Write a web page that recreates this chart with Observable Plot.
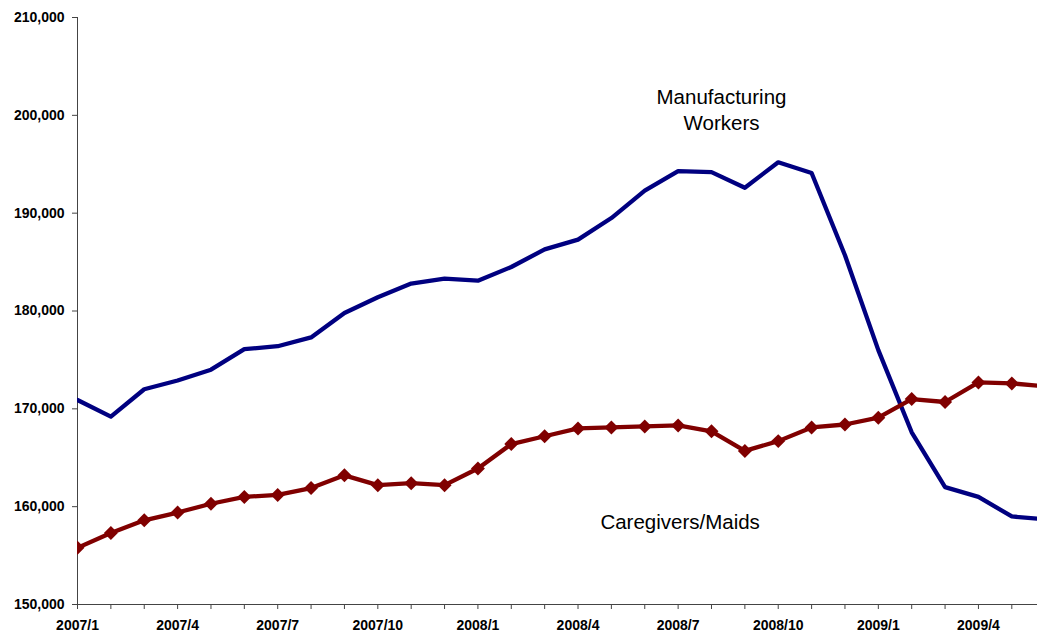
<!DOCTYPE html>
<html>
<head>
<meta charset="utf-8">
<script src="https://cdn.jsdelivr.net/npm/d3@7"></script>
<script src="https://cdn.jsdelivr.net/npm/@observablehq/plot@0.6"></script>
<style>
  html, body { margin: 0; padding: 0; background: #fff; overflow: hidden; }
</style>
</head>
<body>
<div id="chart"></div>
<script>
const months = ["2007/1","2007/2","2007/3","2007/4","2007/5","2007/6","2007/7","2007/8","2007/9","2007/10","2007/11","2007/12",
  "2008/1","2008/2","2008/3","2008/4","2008/5","2008/6","2008/7","2008/8","2008/9","2008/10","2008/11","2008/12",
  "2009/1","2009/2","2009/3","2009/4","2009/5","2009/6"];
const manufacturing = [170900,169200,172000,172900,174000,176100,176400,177300,179800,181400,182800,183300,
  183100,184500,186300,187300,189500,192300,194300,194200,192600,195200,194100,185700,
  176000,167600,162000,161000,159000,158700];
const caregivers = [155800,157300,158600,159400,160300,161000,161200,161900,163200,162200,162400,162200,
  163900,166400,167200,168000,168100,168200,168300,167700,165700,166700,168100,168400,
  169100,171000,170700,172700,172600,172300];
const yTicks = [150000,160000,170000,180000,190000,200000,210000];
const mfgLabel = {label: "Manufacturing\nWorkers", month: "2008/8", value: 200700};
const careLabel = {label: "Caregivers/Maids", month: "2008/7", value: 158550};

const mfg = months.map((m, i) => ({i, month: m, value: manufacturing[i]}));
const care = months.map((m, i) => ({i, month: m, value: caregivers[i]}));
const toAnn = a => [{...a, i: months.indexOf(a.month)}];

const textOpts = {x: "i", y: "value", text: "label", fontSize: 20.5, fontWeight: "normal", fill: "#000", lineHeight: 1.27, textAnchor: "middle"};

const chart = Plot.plot({
  width: 1037,
  height: 638,
  marginLeft: 77,
  marginRight: 0,
  marginTop: 17,
  marginBottom: 34,
  style: {fontFamily: "'Liberation Sans', Arial, sans-serif", fontSize: "14px", fontWeight: "bold", color: "#000", background: "#fff"},
  x: {type: "linear", domain: [0, 28.77]},
  y: {domain: [150000, 210000]},
  marks: [
    Plot.axisY({ticks: yTicks, tickFormat: d3.format(","), tickSize: 5, tickPadding: 8, stroke: "#444", fill: "#000", label: null}),
    Plot.axisX({ticks: d3.range(0, 29), tickFormat: i => (i % 3 === 0 ? months[i] : ""), tickSize: 5, tickPadding: 11, stroke: "#444", fill: "#000", label: null}),
    Plot.ruleX([0], {stroke: "#444", strokeWidth: 1}),
    Plot.ruleY([150000], {stroke: "#444", strokeWidth: 1}),
    Plot.line(mfg, {x: "i", y: "value", stroke: "#000080", strokeWidth: 4.3, clip: true}),
    Plot.line(care, {x: "i", y: "value", stroke: "#800000", strokeWidth: 4.3, clip: true}),
    Plot.dot(care, {x: "i", y: "value", symbol: "diamond2", r: 6.3, fill: "#800000", stroke: "none", clip: true}),
    Plot.text(toAnn(mfgLabel), {...textOpts, dx: 10}),
    Plot.text(toAnn(careLabel), {...textOpts, dx: 2})
  ]
});
document.getElementById("chart").appendChild(chart);
</script>
</body>
</html>
